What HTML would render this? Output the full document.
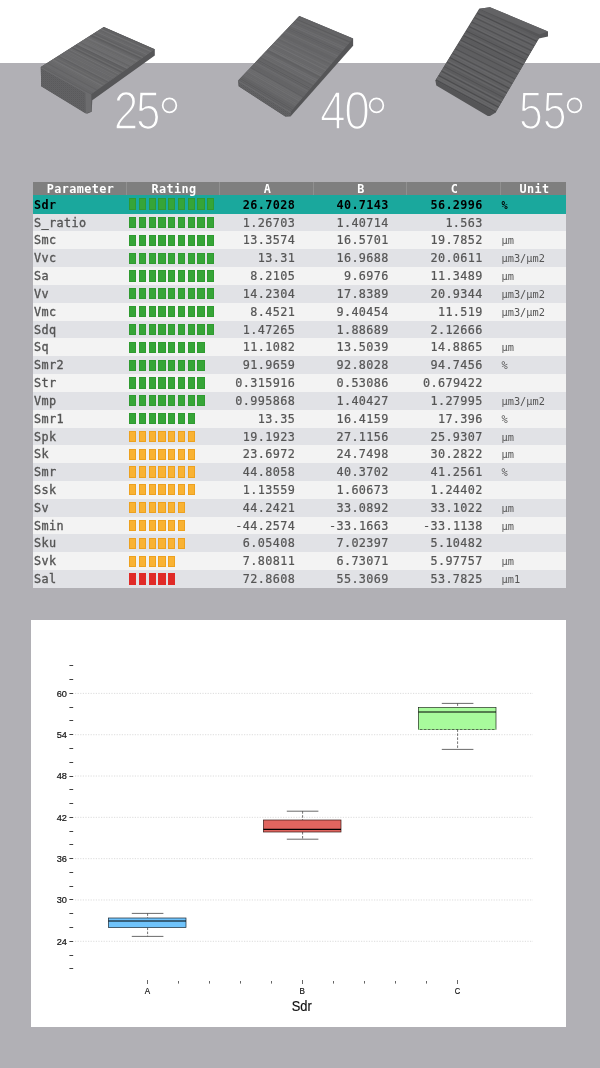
<!DOCTYPE html>
<html lang="en">
<head>
<meta charset="utf-8">
<title>Surface parameters</title>
<style>
html,body{margin:0;padding:0;}
body{width:600px;height:1068px;position:relative;overflow:hidden;background:#b1b0b5;font-family:"Liberation Sans",sans-serif;}
.band{position:absolute;left:0;top:0;width:600px;height:63px;background:#fff;}
.topsvg{position:absolute;left:0;top:0;}
.tbl{position:absolute;left:33px;top:182px;width:533px;font-family:"DejaVu Sans Mono","Liberation Mono",monospace;font-size:11.8px;letter-spacing:0.38px;color:#555;-webkit-text-stroke:0.2px #555;}
.hd{height:13.2px;background:#7f7f7f;color:#fff;font-weight:bold;display:flex;line-height:15.5px;-webkit-text-stroke:0;}
.hd>div{text-align:center;box-sizing:border-box;border-left:1px solid #909090;padding-left:2px;}
.hd>div:first-child{border-left:none;}
.r{height:17.84px;display:flex;line-height:19.84px;overflow:hidden;}
.r.odd{background:#e1e2e6;}
.r.ev{background:#f3f3f3;}
.r.sel{background:#1aa89d;color:#000;font-weight:bold;-webkit-text-stroke:0 #000;height:18.4px;line-height:20.6px;}
.c1{width:93px;}
.c2{width:93px;}
.c3{width:94px;}
.c4{width:93px;}
.c5{width:94px;}
.c6{width:66px;}
.r .c1{padding-left:1px;box-sizing:border-box;-webkit-text-stroke-width:0.35px;}
.r.sel .c1{-webkit-text-stroke-width:0;}
.r .c3,.r .c4,.r .c5{text-align:right;padding-right:17.8px;box-sizing:border-box;}
.r .c4,.r .c5{padding-right:17.2px;}
.r .c6{padding-left:1.5px;box-sizing:border-box;font-size:10.3px;letter-spacing:0;-webkit-text-stroke:0;}
.r .c2{position:relative;font-size:0;line-height:0;}
.c2 i{position:absolute;top:3.3px;width:7.1px;height:11.2px;box-sizing:border-box;}
.c2 i:nth-child(1){left:3.20px;}
.c2 i:nth-child(2){left:12.95px;}
.c2 i:nth-child(3){left:22.70px;}
.c2 i:nth-child(4){left:32.45px;}
.c2 i:nth-child(5){left:42.20px;}
.c2 i:nth-child(6){left:51.95px;}
.c2 i:nth-child(7){left:61.70px;}
.c2 i:nth-child(8){left:71.45px;}
.c2 i:nth-child(9){left:81.20px;}

.kg i{background:#36a537;border:0.5px solid #2f9a30;}
.ko i{background:#f9b233;border:0.5px solid #eda11f;}
.kr i{background:#e02a27;}
.chart{position:absolute;left:31px;top:620px;}
</style>
</head>
<body>
<div class="band"></div>
<svg class="topsvg" width="600" height="180" viewBox="0 0 600 180">
<defs>
<clipPath id="c1"><polygon points="40.8,66.9 103.8,26.9 154.8,49.2 90.8,94.6"/></clipPath>
<clipPath id="c2"><polygon points="238.2,80.4 299.3,16.1 353.1,38.6 290.7,111.8"/></clipPath>
<clipPath id="c3"><polygon points="435.4,80.6 479.6,9.5 539.5,37.5 495.4,112.7"/></clipPath>
<pattern id="dots" width="2" height="2" patternUnits="userSpaceOnUse"><rect width="2" height="2" fill="#626264"/><rect width="1" height="1" fill="#5f5f61"/><rect x="1" y="1" width="1" height="1" fill="#5a5a5c"/></pattern>
</defs>
<g>
<polygon points="40.8,66.9 103.8,26.9 154.8,49.2 154.8,55.4 92.3,100.2 91.7,111.7 87.0,113.8 41.2,86.2" fill="#565658"/>
<polygon points="40.8,66.9 85.2,92.0 85.6,113.6 41.2,86.2" fill="url(#dots)"/>
<polygon points="85.2,91.5 91.3,94.6 91.6,111.6 85.6,113.6" fill="#6c6c6e"/>
<polygon points="40.8,66.9 103.8,26.9 154.8,49.2 90.8,94.6" fill="#686869"/>
<g clip-path="url(#c1)"><line x1="41.5" y1="66.5" x2="91.5" y2="94.1" stroke="#616163" stroke-width="0.8"/>
<line x1="42.9" y1="65.6" x2="92.9" y2="93.1" stroke="#656567" stroke-width="0.8"/>
<line x1="44.2" y1="64.7" x2="94.3" y2="92.1" stroke="#6a6a6c" stroke-width="1.5"/>
<line x1="45.6" y1="63.9" x2="95.7" y2="91.1" stroke="#6a6a6c" stroke-width="1.5"/>
<line x1="47.0" y1="63.0" x2="97.1" y2="90.2" stroke="#616163" stroke-width="0.8"/>
<line x1="48.3" y1="62.1" x2="98.5" y2="89.2" stroke="#6a6a6c" stroke-width="0.8"/>
<line x1="49.7" y1="61.2" x2="99.8" y2="88.2" stroke="#6a6a6c" stroke-width="1.5"/>
<line x1="51.1" y1="60.4" x2="101.2" y2="87.2" stroke="#6e6e70" stroke-width="0.8"/>
<line x1="52.4" y1="59.5" x2="102.6" y2="86.2" stroke="#717173" stroke-width="1.5"/>
<line x1="53.8" y1="58.6" x2="104.0" y2="85.2" stroke="#656567" stroke-width="1.0"/>
<line x1="55.2" y1="57.8" x2="105.4" y2="84.2" stroke="#6e6e70" stroke-width="0.8"/>
<line x1="56.5" y1="56.9" x2="106.8" y2="83.2" stroke="#656567" stroke-width="0.8"/>
<line x1="57.9" y1="56.0" x2="108.2" y2="82.3" stroke="#5d5d5f" stroke-width="0.8"/>
<line x1="59.3" y1="55.2" x2="109.6" y2="81.3" stroke="#717173" stroke-width="0.8"/>
<line x1="60.6" y1="54.3" x2="111.0" y2="80.3" stroke="#6a6a6c" stroke-width="1.0"/>
<line x1="62.0" y1="53.4" x2="112.4" y2="79.3" stroke="#6a6a6c" stroke-width="0.8"/>
<line x1="63.4" y1="52.6" x2="113.8" y2="78.3" stroke="#6e6e70" stroke-width="1.0"/>
<line x1="64.7" y1="51.7" x2="115.1" y2="77.3" stroke="#6a6a6c" stroke-width="1.5"/>
<line x1="66.1" y1="50.8" x2="116.5" y2="76.3" stroke="#6e6e70" stroke-width="1.0"/>
<line x1="67.5" y1="49.9" x2="117.9" y2="75.4" stroke="#656567" stroke-width="1.0"/>
<line x1="68.9" y1="49.1" x2="119.3" y2="74.4" stroke="#717173" stroke-width="1.0"/>
<line x1="70.2" y1="48.2" x2="120.7" y2="73.4" stroke="#6a6a6c" stroke-width="1.2"/>
<line x1="71.6" y1="47.3" x2="122.1" y2="72.4" stroke="#5d5d5f" stroke-width="1.5"/>
<line x1="73.0" y1="46.5" x2="123.5" y2="71.4" stroke="#6e6e70" stroke-width="0.8"/>
<line x1="74.3" y1="45.6" x2="124.9" y2="70.4" stroke="#616163" stroke-width="1.2"/>
<line x1="75.7" y1="44.7" x2="126.3" y2="69.4" stroke="#5d5d5f" stroke-width="1.2"/>
<line x1="77.1" y1="43.9" x2="127.7" y2="68.4" stroke="#717173" stroke-width="1.5"/>
<line x1="78.4" y1="43.0" x2="129.1" y2="67.5" stroke="#6e6e70" stroke-width="1.0"/>
<line x1="79.8" y1="42.1" x2="130.5" y2="66.5" stroke="#656567" stroke-width="1.2"/>
<line x1="81.2" y1="41.2" x2="131.8" y2="65.5" stroke="#6e6e70" stroke-width="1.5"/>
<line x1="82.5" y1="40.4" x2="133.2" y2="64.5" stroke="#6e6e70" stroke-width="1.5"/>
<line x1="83.9" y1="39.5" x2="134.6" y2="63.5" stroke="#6e6e70" stroke-width="0.8"/>
<line x1="85.3" y1="38.6" x2="136.0" y2="62.5" stroke="#6a6a6c" stroke-width="1.0"/>
<line x1="86.6" y1="37.8" x2="137.4" y2="61.5" stroke="#717173" stroke-width="1.5"/>
<line x1="88.0" y1="36.9" x2="138.8" y2="60.5" stroke="#6a6a6c" stroke-width="1.0"/>
<line x1="89.4" y1="36.0" x2="140.2" y2="59.6" stroke="#656567" stroke-width="1.2"/>
<line x1="90.7" y1="35.2" x2="141.6" y2="58.6" stroke="#5d5d5f" stroke-width="1.5"/>
<line x1="92.1" y1="34.3" x2="143.0" y2="57.6" stroke="#717173" stroke-width="0.8"/>
<line x1="93.5" y1="33.4" x2="144.4" y2="56.6" stroke="#616163" stroke-width="1.5"/>
<line x1="94.9" y1="32.6" x2="145.8" y2="55.6" stroke="#656567" stroke-width="1.5"/>
<line x1="96.2" y1="31.7" x2="147.1" y2="54.6" stroke="#717173" stroke-width="0.8"/>
<line x1="97.6" y1="30.8" x2="148.5" y2="53.6" stroke="#6a6a6c" stroke-width="0.8"/>
<line x1="99.0" y1="29.9" x2="149.9" y2="52.7" stroke="#656567" stroke-width="1.5"/>
<line x1="100.3" y1="29.1" x2="151.3" y2="51.7" stroke="#717173" stroke-width="1.0"/>
<line x1="101.7" y1="28.2" x2="152.7" y2="50.7" stroke="#616163" stroke-width="1.0"/>
<line x1="103.1" y1="27.3" x2="154.1" y2="49.7" stroke="#5d5d5f" stroke-width="1.0"/></g>
<line x1="41.4" y1="67.7" x2="90.8" y2="95.19999999999999" stroke="#6d6d6f" stroke-width="1.2"/>
</g>
<g>
<polygon points="238.2,80.4 299.3,16.1 353.1,38.6 353.1,45.8 290.7,116.2 285.3,116.6 238.7,86.3" fill="#555557"/>
<polygon points="238.2,80.4 290.7,111.8 290.7,116.2 285.3,116.6 238.7,86.3" fill="url(#dots)"/>
<polygon points="238.2,80.4 299.3,16.1 353.1,38.6 290.7,111.8" fill="#676769"/>
<g clip-path="url(#c2)"><line x1="238.8" y1="79.8" x2="291.3" y2="111.1" stroke="#5c5c5e" stroke-width="0.8"/>
<line x1="240.0" y1="78.5" x2="292.5" y2="109.7" stroke="#5c5c5e" stroke-width="1.2"/>
<line x1="241.1" y1="77.3" x2="293.7" y2="108.3" stroke="#606062" stroke-width="1.2"/>
<line x1="242.3" y1="76.1" x2="294.9" y2="106.9" stroke="#646466" stroke-width="1.0"/>
<line x1="243.5" y1="74.8" x2="296.1" y2="105.5" stroke="#6d6d6f" stroke-width="0.8"/>
<line x1="244.7" y1="73.6" x2="297.3" y2="104.1" stroke="#6d6d6f" stroke-width="1.0"/>
<line x1="245.8" y1="72.4" x2="298.5" y2="102.7" stroke="#69696b" stroke-width="1.5"/>
<line x1="247.0" y1="71.1" x2="299.7" y2="101.2" stroke="#707072" stroke-width="1.2"/>
<line x1="248.2" y1="69.9" x2="300.9" y2="99.8" stroke="#6d6d6f" stroke-width="1.5"/>
<line x1="249.4" y1="68.7" x2="302.1" y2="98.4" stroke="#6d6d6f" stroke-width="1.2"/>
<line x1="250.5" y1="67.4" x2="303.3" y2="97.0" stroke="#5c5c5e" stroke-width="0.8"/>
<line x1="251.7" y1="66.2" x2="304.5" y2="95.6" stroke="#646466" stroke-width="1.5"/>
<line x1="252.9" y1="64.9" x2="305.7" y2="94.2" stroke="#646466" stroke-width="1.5"/>
<line x1="254.1" y1="63.7" x2="306.9" y2="92.8" stroke="#69696b" stroke-width="1.0"/>
<line x1="255.2" y1="62.5" x2="308.1" y2="91.4" stroke="#6d6d6f" stroke-width="1.0"/>
<line x1="256.4" y1="61.2" x2="309.3" y2="90.0" stroke="#606062" stroke-width="1.0"/>
<line x1="257.6" y1="60.0" x2="310.5" y2="88.6" stroke="#5c5c5e" stroke-width="1.0"/>
<line x1="258.8" y1="58.8" x2="311.7" y2="87.2" stroke="#646466" stroke-width="1.0"/>
<line x1="259.9" y1="57.5" x2="312.9" y2="85.8" stroke="#606062" stroke-width="1.2"/>
<line x1="261.1" y1="56.3" x2="314.1" y2="84.3" stroke="#6d6d6f" stroke-width="1.0"/>
<line x1="262.3" y1="55.1" x2="315.3" y2="82.9" stroke="#69696b" stroke-width="1.5"/>
<line x1="263.5" y1="53.8" x2="316.5" y2="81.5" stroke="#707072" stroke-width="1.2"/>
<line x1="264.6" y1="52.6" x2="317.7" y2="80.1" stroke="#6d6d6f" stroke-width="1.2"/>
<line x1="265.8" y1="51.3" x2="318.9" y2="78.7" stroke="#646466" stroke-width="1.5"/>
<line x1="267.0" y1="50.1" x2="320.1" y2="77.3" stroke="#606062" stroke-width="1.5"/>
<line x1="268.2" y1="48.9" x2="321.3" y2="75.9" stroke="#707072" stroke-width="1.5"/>
<line x1="269.3" y1="47.6" x2="322.5" y2="74.5" stroke="#707072" stroke-width="1.0"/>
<line x1="270.5" y1="46.4" x2="323.7" y2="73.1" stroke="#69696b" stroke-width="1.2"/>
<line x1="271.7" y1="45.2" x2="324.9" y2="71.7" stroke="#69696b" stroke-width="1.2"/>
<line x1="272.9" y1="43.9" x2="326.1" y2="70.3" stroke="#707072" stroke-width="1.5"/>
<line x1="274.0" y1="42.7" x2="327.3" y2="68.9" stroke="#69696b" stroke-width="1.2"/>
<line x1="275.2" y1="41.4" x2="328.5" y2="67.5" stroke="#6d6d6f" stroke-width="1.5"/>
<line x1="276.4" y1="40.2" x2="329.7" y2="66.1" stroke="#69696b" stroke-width="1.0"/>
<line x1="277.6" y1="39.0" x2="330.9" y2="64.6" stroke="#646466" stroke-width="1.0"/>
<line x1="278.7" y1="37.7" x2="332.1" y2="63.2" stroke="#6d6d6f" stroke-width="1.2"/>
<line x1="279.9" y1="36.5" x2="333.3" y2="61.8" stroke="#69696b" stroke-width="1.2"/>
<line x1="281.1" y1="35.3" x2="334.5" y2="60.4" stroke="#646466" stroke-width="1.5"/>
<line x1="282.3" y1="34.0" x2="335.7" y2="59.0" stroke="#646466" stroke-width="1.0"/>
<line x1="283.4" y1="32.8" x2="336.9" y2="57.6" stroke="#69696b" stroke-width="1.2"/>
<line x1="284.6" y1="31.6" x2="338.1" y2="56.2" stroke="#707072" stroke-width="0.8"/>
<line x1="285.8" y1="30.3" x2="339.3" y2="54.8" stroke="#646466" stroke-width="0.8"/>
<line x1="287.0" y1="29.1" x2="340.5" y2="53.4" stroke="#606062" stroke-width="0.8"/>
<line x1="288.1" y1="27.8" x2="341.7" y2="52.0" stroke="#5c5c5e" stroke-width="0.8"/>
<line x1="289.3" y1="26.6" x2="342.9" y2="50.6" stroke="#646466" stroke-width="1.0"/>
<line x1="290.5" y1="25.4" x2="344.1" y2="49.2" stroke="#707072" stroke-width="0.8"/>
<line x1="291.7" y1="24.1" x2="345.3" y2="47.8" stroke="#6d6d6f" stroke-width="1.0"/>
<line x1="292.8" y1="22.9" x2="346.5" y2="46.3" stroke="#646466" stroke-width="1.0"/>
<line x1="294.0" y1="21.7" x2="347.7" y2="44.9" stroke="#606062" stroke-width="0.8"/>
<line x1="295.2" y1="20.4" x2="348.9" y2="43.5" stroke="#69696b" stroke-width="0.8"/>
<line x1="296.4" y1="19.2" x2="350.1" y2="42.1" stroke="#5c5c5e" stroke-width="1.2"/>
<line x1="297.5" y1="18.0" x2="351.3" y2="40.7" stroke="#646466" stroke-width="1.0"/>
<line x1="298.7" y1="16.7" x2="352.5" y2="39.3" stroke="#606062" stroke-width="0.8"/></g>
<line x1="238.79999999999998" y1="81.2" x2="290.7" y2="112.39999999999999" stroke="#6b6b6d" stroke-width="1.2"/>
</g>
<g>
<polygon points="435.4,80.6 479.2,8.7 490.0,7.2 548.0,31.4 548.0,36.4 538.8,38.6 537.7,40.0 495.4,112.7 490.0,116.0 487.8,116.0 436.3,85.6" fill="#555557"/>
<polygon points="479.2,8.7 490.0,7.2 548.0,31.4 539.5,34.5" fill="#636365"/>
<polygon points="435.4,80.6 479.6,9.5 539.5,37.5 495.4,112.7" fill="#5f5f61"/>
<g clip-path="url(#c3)"><line x1="435.9" y1="79.9" x2="495.9" y2="111.9" stroke="#4b4b4d" stroke-width="1.1"/>
<line x1="436.8" y1="78.4" x2="496.8" y2="110.4" stroke="#676769" stroke-width="1.3"/>
<line x1="437.7" y1="76.9" x2="497.7" y2="108.8" stroke="#676769" stroke-width="1.3"/>
<line x1="438.6" y1="75.4" x2="498.6" y2="107.2" stroke="#4b4b4d" stroke-width="1.1"/>
<line x1="439.5" y1="73.9" x2="499.5" y2="105.7" stroke="#616163" stroke-width="1.3"/>
<line x1="440.5" y1="72.5" x2="500.5" y2="104.1" stroke="#676769" stroke-width="1.3"/>
<line x1="441.4" y1="71.0" x2="501.4" y2="102.5" stroke="#4e4e50" stroke-width="1.1"/>
<line x1="442.3" y1="69.5" x2="502.3" y2="101.0" stroke="#676769" stroke-width="1.3"/>
<line x1="443.2" y1="68.0" x2="503.2" y2="99.4" stroke="#5c5c5e" stroke-width="1.3"/>
<line x1="444.1" y1="66.5" x2="504.1" y2="97.8" stroke="#515153" stroke-width="1.1"/>
<line x1="445.1" y1="65.0" x2="505.0" y2="96.2" stroke="#5c5c5e" stroke-width="1.3"/>
<line x1="446.0" y1="63.6" x2="506.0" y2="94.7" stroke="#646466" stroke-width="1.3"/>
<line x1="446.9" y1="62.1" x2="506.9" y2="93.1" stroke="#4e4e50" stroke-width="1.1"/>
<line x1="447.8" y1="60.6" x2="507.8" y2="91.5" stroke="#676769" stroke-width="1.3"/>
<line x1="448.8" y1="59.1" x2="508.7" y2="90.0" stroke="#5f5f61" stroke-width="1.3"/>
<line x1="449.7" y1="57.6" x2="509.6" y2="88.4" stroke="#4b4b4d" stroke-width="1.1"/>
<line x1="450.6" y1="56.2" x2="510.6" y2="86.8" stroke="#646466" stroke-width="1.3"/>
<line x1="451.5" y1="54.7" x2="511.5" y2="85.3" stroke="#676769" stroke-width="1.3"/>
<line x1="452.4" y1="53.2" x2="512.4" y2="83.7" stroke="#515153" stroke-width="1.1"/>
<line x1="453.4" y1="51.7" x2="513.3" y2="82.2" stroke="#646466" stroke-width="1.3"/>
<line x1="454.3" y1="50.2" x2="514.2" y2="80.6" stroke="#646466" stroke-width="1.3"/>
<line x1="455.2" y1="48.8" x2="515.2" y2="79.0" stroke="#515153" stroke-width="1.1"/>
<line x1="456.1" y1="47.3" x2="516.1" y2="77.5" stroke="#5f5f61" stroke-width="1.3"/>
<line x1="457.0" y1="45.8" x2="517.0" y2="75.9" stroke="#5f5f61" stroke-width="1.3"/>
<line x1="458.0" y1="44.3" x2="517.9" y2="74.3" stroke="#515153" stroke-width="1.1"/>
<line x1="458.9" y1="42.8" x2="518.8" y2="72.8" stroke="#5f5f61" stroke-width="1.3"/>
<line x1="459.8" y1="41.3" x2="519.7" y2="71.2" stroke="#676769" stroke-width="1.3"/>
<line x1="460.7" y1="39.9" x2="520.7" y2="69.6" stroke="#4e4e50" stroke-width="1.1"/>
<line x1="461.6" y1="38.4" x2="521.6" y2="68.1" stroke="#5c5c5e" stroke-width="1.3"/>
<line x1="462.6" y1="36.9" x2="522.5" y2="66.5" stroke="#5c5c5e" stroke-width="1.3"/>
<line x1="463.5" y1="35.4" x2="523.4" y2="64.9" stroke="#4b4b4d" stroke-width="1.1"/>
<line x1="464.4" y1="33.9" x2="524.3" y2="63.4" stroke="#676769" stroke-width="1.3"/>
<line x1="465.3" y1="32.5" x2="525.3" y2="61.8" stroke="#5c5c5e" stroke-width="1.3"/>
<line x1="466.2" y1="31.0" x2="526.2" y2="60.2" stroke="#4e4e50" stroke-width="1.1"/>
<line x1="467.2" y1="29.5" x2="527.1" y2="58.6" stroke="#5c5c5e" stroke-width="1.3"/>
<line x1="468.1" y1="28.0" x2="528.0" y2="57.1" stroke="#616163" stroke-width="1.3"/>
<line x1="469.0" y1="26.5" x2="528.9" y2="55.5" stroke="#4e4e50" stroke-width="1.1"/>
<line x1="469.9" y1="25.1" x2="529.9" y2="54.0" stroke="#676769" stroke-width="1.3"/>
<line x1="470.9" y1="23.6" x2="530.8" y2="52.4" stroke="#646466" stroke-width="1.3"/>
<line x1="471.8" y1="22.1" x2="531.7" y2="50.8" stroke="#515153" stroke-width="1.1"/>
<line x1="472.7" y1="20.6" x2="532.6" y2="49.2" stroke="#646466" stroke-width="1.3"/>
<line x1="473.6" y1="19.1" x2="533.5" y2="47.7" stroke="#646466" stroke-width="1.3"/>
<line x1="474.5" y1="17.6" x2="534.4" y2="46.1" stroke="#515153" stroke-width="1.1"/>
<line x1="475.5" y1="16.2" x2="535.4" y2="44.5" stroke="#676769" stroke-width="1.3"/>
<line x1="476.4" y1="14.7" x2="536.3" y2="43.0" stroke="#646466" stroke-width="1.3"/>
<line x1="477.3" y1="13.2" x2="537.2" y2="41.4" stroke="#4b4b4d" stroke-width="1.1"/>
<line x1="478.2" y1="11.7" x2="538.1" y2="39.8" stroke="#616163" stroke-width="1.3"/>
<line x1="479.1" y1="10.2" x2="539.0" y2="38.3" stroke="#5c5c5e" stroke-width="1.3"/></g>
</g>
<g font-family="'Liberation Sans',sans-serif" fill="#fff" stroke="#b1b0b5" paint-order="fill stroke" stroke-linejoin="round">
<text transform="translate(113.7,128.7) scale(0.835,1)" font-size="52.8" letter-spacing="-2.5" stroke-width="1.6" vector-effect="non-scaling-stroke">25</text>
<text transform="translate(157.5,140.9) scale(0.96,1)" font-size="62.6" stroke-width="1.5" vector-effect="non-scaling-stroke">°</text>
<text transform="translate(320,128.7) scale(0.875,1)" font-size="52.8" letter-spacing="-1.5" stroke-width="1.6" vector-effect="non-scaling-stroke">40</text>
<text transform="translate(364.5,140.9) scale(0.96,1)" font-size="62.6" stroke-width="1.5" vector-effect="non-scaling-stroke">°</text>
<text transform="translate(519.1,128.5) scale(0.81,1)" font-size="52.8" letter-spacing="-0.3" stroke-width="1.6" vector-effect="non-scaling-stroke">55</text>
<text transform="translate(562.5,140.9) scale(0.96,1)" font-size="62.6" stroke-width="1.5" vector-effect="non-scaling-stroke">°</text>
</g>
</svg>
<div class="tbl">
<div class="hd"><div class="c1">Parameter</div><div class="c2">Rating</div><div class="c3">A</div><div class="c4">B</div><div class="c5">C</div><div class="c6">Unit</div></div>
<div class="r sel"><div class="c1">Sdr</div><div class="c2 kg"><i></i><i></i><i></i><i></i><i></i><i></i><i></i><i></i><i></i></div><div class="c3">26.7028</div><div class="c4">40.7143</div><div class="c5">56.2996</div><div class="c6">%</div></div>
<div class="r odd"><div class="c1">S_ratio</div><div class="c2 kg"><i></i><i></i><i></i><i></i><i></i><i></i><i></i><i></i><i></i></div><div class="c3">1.26703</div><div class="c4">1.40714</div><div class="c5">1.563</div><div class="c6"></div></div>
<div class="r ev"><div class="c1">Smc</div><div class="c2 kg"><i></i><i></i><i></i><i></i><i></i><i></i><i></i><i></i><i></i></div><div class="c3">13.3574</div><div class="c4">16.5701</div><div class="c5">19.7852</div><div class="c6">µm</div></div>
<div class="r odd"><div class="c1">Vvc</div><div class="c2 kg"><i></i><i></i><i></i><i></i><i></i><i></i><i></i><i></i><i></i></div><div class="c3">13.31</div><div class="c4">16.9688</div><div class="c5">20.0611</div><div class="c6">µm3/µm2</div></div>
<div class="r ev"><div class="c1">Sa</div><div class="c2 kg"><i></i><i></i><i></i><i></i><i></i><i></i><i></i><i></i><i></i></div><div class="c3">8.2105</div><div class="c4">9.6976</div><div class="c5">11.3489</div><div class="c6">µm</div></div>
<div class="r odd"><div class="c1">Vv</div><div class="c2 kg"><i></i><i></i><i></i><i></i><i></i><i></i><i></i><i></i><i></i></div><div class="c3">14.2304</div><div class="c4">17.8389</div><div class="c5">20.9344</div><div class="c6">µm3/µm2</div></div>
<div class="r ev"><div class="c1">Vmc</div><div class="c2 kg"><i></i><i></i><i></i><i></i><i></i><i></i><i></i><i></i><i></i></div><div class="c3">8.4521</div><div class="c4">9.40454</div><div class="c5">11.519</div><div class="c6">µm3/µm2</div></div>
<div class="r odd"><div class="c1">Sdq</div><div class="c2 kg"><i></i><i></i><i></i><i></i><i></i><i></i><i></i><i></i><i></i></div><div class="c3">1.47265</div><div class="c4">1.88689</div><div class="c5">2.12666</div><div class="c6"></div></div>
<div class="r ev"><div class="c1">Sq</div><div class="c2 kg"><i></i><i></i><i></i><i></i><i></i><i></i><i></i><i></i></div><div class="c3">11.1082</div><div class="c4">13.5039</div><div class="c5">14.8865</div><div class="c6">µm</div></div>
<div class="r odd"><div class="c1">Smr2</div><div class="c2 kg"><i></i><i></i><i></i><i></i><i></i><i></i><i></i><i></i></div><div class="c3">91.9659</div><div class="c4">92.8028</div><div class="c5">94.7456</div><div class="c6">%</div></div>
<div class="r ev"><div class="c1">Str</div><div class="c2 kg"><i></i><i></i><i></i><i></i><i></i><i></i><i></i><i></i></div><div class="c3">0.315916</div><div class="c4">0.53086</div><div class="c5">0.679422</div><div class="c6"></div></div>
<div class="r odd"><div class="c1">Vmp</div><div class="c2 kg"><i></i><i></i><i></i><i></i><i></i><i></i><i></i><i></i></div><div class="c3">0.995868</div><div class="c4">1.40427</div><div class="c5">1.27995</div><div class="c6">µm3/µm2</div></div>
<div class="r ev"><div class="c1">Smr1</div><div class="c2 kg"><i></i><i></i><i></i><i></i><i></i><i></i><i></i></div><div class="c3">13.35</div><div class="c4">16.4159</div><div class="c5">17.396</div><div class="c6">%</div></div>
<div class="r odd"><div class="c1">Spk</div><div class="c2 ko"><i></i><i></i><i></i><i></i><i></i><i></i><i></i></div><div class="c3">19.1923</div><div class="c4">27.1156</div><div class="c5">25.9307</div><div class="c6">µm</div></div>
<div class="r ev"><div class="c1">Sk</div><div class="c2 ko"><i></i><i></i><i></i><i></i><i></i><i></i><i></i></div><div class="c3">23.6972</div><div class="c4">24.7498</div><div class="c5">30.2822</div><div class="c6">µm</div></div>
<div class="r odd"><div class="c1">Smr</div><div class="c2 ko"><i></i><i></i><i></i><i></i><i></i><i></i><i></i></div><div class="c3">44.8058</div><div class="c4">40.3702</div><div class="c5">41.2561</div><div class="c6">%</div></div>
<div class="r ev"><div class="c1">Ssk</div><div class="c2 ko"><i></i><i></i><i></i><i></i><i></i><i></i><i></i></div><div class="c3">1.13559</div><div class="c4">1.60673</div><div class="c5">1.24402</div><div class="c6"></div></div>
<div class="r odd"><div class="c1">Sv</div><div class="c2 ko"><i></i><i></i><i></i><i></i><i></i><i></i></div><div class="c3">44.2421</div><div class="c4">33.0892</div><div class="c5">33.1022</div><div class="c6">µm</div></div>
<div class="r ev"><div class="c1">Smin</div><div class="c2 ko"><i></i><i></i><i></i><i></i><i></i><i></i></div><div class="c3">-44.2574</div><div class="c4">-33.1663</div><div class="c5">-33.1138</div><div class="c6">µm</div></div>
<div class="r odd"><div class="c1">Sku</div><div class="c2 ko"><i></i><i></i><i></i><i></i><i></i><i></i></div><div class="c3">6.05408</div><div class="c4">7.02397</div><div class="c5">5.10482</div><div class="c6"></div></div>
<div class="r ev"><div class="c1">Svk</div><div class="c2 ko"><i></i><i></i><i></i><i></i><i></i></div><div class="c3">7.80811</div><div class="c4">6.73071</div><div class="c5">5.97757</div><div class="c6">µm</div></div>
<div class="r odd"><div class="c1">Sal</div><div class="c2 kr"><i></i><i></i><i></i><i></i><i></i></div><div class="c3">72.8608</div><div class="c4">55.3069</div><div class="c5">53.7825</div><div class="c6">µm1</div></div>
</div>
<svg class="chart" width="535" height="407" viewBox="0 0 535 407">
<rect x="0" y="0" width="535" height="407" fill="#fff"/>
<line x1="44" x2="502" y1="73.40" y2="73.40" stroke="#c4c4c4" stroke-width="0.6" stroke-dasharray="1.2 1.4"/>
<line x1="44" x2="502" y1="114.72" y2="114.72" stroke="#c4c4c4" stroke-width="0.6" stroke-dasharray="1.2 1.4"/>
<line x1="44" x2="502" y1="156.03" y2="156.03" stroke="#c4c4c4" stroke-width="0.6" stroke-dasharray="1.2 1.4"/>
<line x1="44" x2="502" y1="197.35" y2="197.35" stroke="#c4c4c4" stroke-width="0.6" stroke-dasharray="1.2 1.4"/>
<line x1="44" x2="502" y1="238.66" y2="238.66" stroke="#c4c4c4" stroke-width="0.6" stroke-dasharray="1.2 1.4"/>
<line x1="44" x2="502" y1="279.98" y2="279.98" stroke="#c4c4c4" stroke-width="0.6" stroke-dasharray="1.2 1.4"/>
<line x1="44" x2="502" y1="321.30" y2="321.30" stroke="#c4c4c4" stroke-width="0.6" stroke-dasharray="1.2 1.4"/>
<line x1="38.4" x2="42.2" y1="348.5" y2="348.5" stroke="#2a2a2a" stroke-width="0.9"/>
<line x1="38.4" x2="42.2" y1="335.5" y2="335.5" stroke="#2a2a2a" stroke-width="0.9"/>
<line x1="38.4" x2="42.2" y1="321.5" y2="321.5" stroke="#2a2a2a" stroke-width="0.9"/>
<line x1="38.4" x2="42.2" y1="307.5" y2="307.5" stroke="#2a2a2a" stroke-width="0.9"/>
<line x1="38.4" x2="42.2" y1="293.5" y2="293.5" stroke="#2a2a2a" stroke-width="0.9"/>
<line x1="38.4" x2="42.2" y1="279.5" y2="279.5" stroke="#2a2a2a" stroke-width="0.9"/>
<line x1="38.4" x2="42.2" y1="266.5" y2="266.5" stroke="#2a2a2a" stroke-width="0.9"/>
<line x1="38.4" x2="42.2" y1="252.5" y2="252.5" stroke="#2a2a2a" stroke-width="0.9"/>
<line x1="38.4" x2="42.2" y1="238.5" y2="238.5" stroke="#2a2a2a" stroke-width="0.9"/>
<line x1="38.4" x2="42.2" y1="224.5" y2="224.5" stroke="#2a2a2a" stroke-width="0.9"/>
<line x1="38.4" x2="42.2" y1="211.5" y2="211.5" stroke="#2a2a2a" stroke-width="0.9"/>
<line x1="38.4" x2="42.2" y1="197.5" y2="197.5" stroke="#2a2a2a" stroke-width="0.9"/>
<line x1="38.4" x2="42.2" y1="183.5" y2="183.5" stroke="#2a2a2a" stroke-width="0.9"/>
<line x1="38.4" x2="42.2" y1="169.5" y2="169.5" stroke="#2a2a2a" stroke-width="0.9"/>
<line x1="38.4" x2="42.2" y1="156.5" y2="156.5" stroke="#2a2a2a" stroke-width="0.9"/>
<line x1="38.4" x2="42.2" y1="142.5" y2="142.5" stroke="#2a2a2a" stroke-width="0.9"/>
<line x1="38.4" x2="42.2" y1="128.5" y2="128.5" stroke="#2a2a2a" stroke-width="0.9"/>
<line x1="38.4" x2="42.2" y1="114.5" y2="114.5" stroke="#2a2a2a" stroke-width="0.9"/>
<line x1="38.4" x2="42.2" y1="100.5" y2="100.5" stroke="#2a2a2a" stroke-width="0.9"/>
<line x1="38.4" x2="42.2" y1="87.5" y2="87.5" stroke="#2a2a2a" stroke-width="0.9"/>
<line x1="38.4" x2="42.2" y1="73.5" y2="73.5" stroke="#2a2a2a" stroke-width="0.9"/>
<line x1="38.4" x2="42.2" y1="59.5" y2="59.5" stroke="#2a2a2a" stroke-width="0.9"/>
<line x1="38.4" x2="42.2" y1="45.5" y2="45.5" stroke="#2a2a2a" stroke-width="0.9"/>
<g font-family="'Liberation Sans',sans-serif" font-size="9.2" fill="#111" stroke="#111" stroke-width="0.2" text-anchor="end">
<text x="35.9" y="76.70">60</text>
<text x="35.9" y="118.02">54</text>
<text x="35.9" y="159.33">48</text>
<text x="35.9" y="200.65">42</text>
<text x="35.9" y="241.96">36</text>
<text x="35.9" y="283.28">30</text>
<text x="35.9" y="324.60">24</text>
</g>
<line x1="116.6" x2="116.6" y1="293.4" y2="298.0" stroke="#333" stroke-width="0.7" stroke-dasharray="2.5 1.5"/>
<line x1="116.6" x2="116.6" y1="307.6" y2="316.4" stroke="#333" stroke-width="0.7" stroke-dasharray="2.5 1.5"/>
<line x1="100.8" x2="132.4" y1="293.4" y2="293.4" stroke="#444" stroke-width="0.8"/>
<line x1="100.8" x2="132.4" y1="316.4" y2="316.4" stroke="#444" stroke-width="0.8"/>
<rect x="77.4" y="298.0" width="77.6" height="9.6" fill="#6fc3fb" stroke="#1c2a36" stroke-width="0.7"/>
<line x1="77.4" x2="155.0" y1="301.0" y2="301.0" stroke="#000" stroke-width="1.2"/>
<line x1="271.6" x2="271.6" y1="191.2" y2="200.0" stroke="#333" stroke-width="0.7" stroke-dasharray="2.5 1.5"/>
<line x1="271.6" x2="271.6" y1="212.0" y2="219.2" stroke="#333" stroke-width="0.7" stroke-dasharray="2.5 1.5"/>
<line x1="255.8" x2="287.4" y1="191.2" y2="191.2" stroke="#444" stroke-width="0.8"/>
<line x1="255.8" x2="287.4" y1="219.2" y2="219.2" stroke="#444" stroke-width="0.8"/>
<rect x="232.4" y="200.0" width="77.6" height="12.0" fill="#e0655f" stroke="#3a1a18" stroke-width="0.7"/>
<line x1="232.4" x2="310.0" y1="209.4" y2="209.4" stroke="#000" stroke-width="1.2"/>
<line x1="426.6" x2="426.6" y1="83.4" y2="87.6" stroke="#333" stroke-width="0.7" stroke-dasharray="2.5 1.5"/>
<line x1="426.6" x2="426.6" y1="109.4" y2="129.4" stroke="#333" stroke-width="0.7" stroke-dasharray="2.5 1.5"/>
<line x1="410.8" x2="442.4" y1="83.4" y2="83.4" stroke="#444" stroke-width="0.8"/>
<line x1="410.8" x2="442.4" y1="129.4" y2="129.4" stroke="#444" stroke-width="0.8"/>
<rect x="387.4" y="87.6" width="77.6" height="21.8" fill="#a8fb9c" stroke="#1e301c" stroke-width="0.7"/>
<line x1="387.4" x2="465.0" y1="109.4" y2="109.4" stroke="#a8fb9c" stroke-width="0.9" stroke-dasharray="1.5 2.5"/>
<line x1="387.4" x2="465.0" y1="92.0" y2="92.0" stroke="#000" stroke-width="1.2"/>
<line x1="116.5" x2="116.5" y1="360" y2="364" stroke="#222" stroke-width="0.7"/>
<line x1="147.5" x2="147.5" y1="361" y2="363.6" stroke="#222" stroke-width="0.7"/>
<line x1="178.5" x2="178.5" y1="361" y2="363.6" stroke="#222" stroke-width="0.7"/>
<line x1="209.5" x2="209.5" y1="361" y2="363.6" stroke="#222" stroke-width="0.7"/>
<line x1="240.5" x2="240.5" y1="361" y2="363.6" stroke="#222" stroke-width="0.7"/>
<line x1="271.5" x2="271.5" y1="360" y2="364" stroke="#222" stroke-width="0.7"/>
<line x1="302.5" x2="302.5" y1="361" y2="363.6" stroke="#222" stroke-width="0.7"/>
<line x1="333.5" x2="333.5" y1="361" y2="363.6" stroke="#222" stroke-width="0.7"/>
<line x1="364.5" x2="364.5" y1="361" y2="363.6" stroke="#222" stroke-width="0.7"/>
<line x1="395.5" x2="395.5" y1="361" y2="363.6" stroke="#222" stroke-width="0.7"/>
<line x1="426.5" x2="426.5" y1="360" y2="364" stroke="#222" stroke-width="0.7"/>
<g font-family="'Liberation Sans',sans-serif" font-size="9.8" fill="#111" stroke="#111" stroke-width="0.2" text-anchor="middle">
<text x="116.5" y="373.7" textLength="5.4" lengthAdjust="spacingAndGlyphs">A</text>
<text x="271.3" y="373.7" textLength="5.4" lengthAdjust="spacingAndGlyphs">B</text>
<text x="426.5" y="373.7" textLength="5.4" lengthAdjust="spacingAndGlyphs">C</text>
</g>
<text x="260.8" y="391" font-family="'Liberation Sans',sans-serif" font-size="14" fill="#111" stroke="#111" stroke-width="0.2" textLength="20" lengthAdjust="spacingAndGlyphs">Sdr</text>
</svg>
</body>
</html>
